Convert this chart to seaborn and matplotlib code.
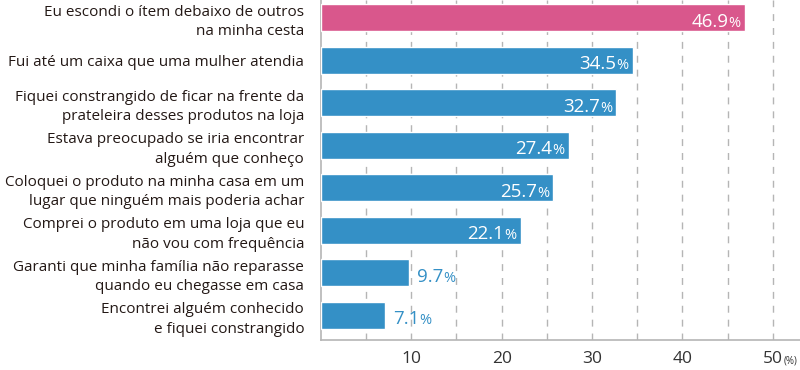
import matplotlib
matplotlib.use("Agg")
import matplotlib.pyplot as plt
import seaborn as sns
import pandas as pd
from matplotlib.transforms import offset_copy

categories = [
    "Eu escondi o ítem debaixo de outros\nna minha cesta",
    "Fui até um caixa que uma mulher atendia",
    "Fiquei constrangido de ficar na frente da\nprateleira desses produtos na loja",
    "Estava preocupado se iria encontrar\nalguém que conheço",
    "Coloquei o produto na minha casa em um\nlugar que ninguém mais poderia achar",
    "Comprei o produto em uma loja que eu\nnão vou com frequência",
    "Garanti que minha família não reparasse\nquando eu chegasse em casa",
    "Encontrei alguém conhecido\ne fiquei constrangido",
]
values = [46.9, 34.5, 32.7, 27.4, 25.7, 22.1, 9.7, 7.1]
tick_values = [10, 20, 30, 40, 50]
tick_labels = ["10", "20", "30", "40", "50"]

PINK = "#d9578c"
BLUE = "#3490c6"
colors = [PINK] + [BLUE] * (len(values) - 1)

df = pd.DataFrame({"cat": categories, "val": values})

sns.set_theme(style="white")
plt.rcParams["font.family"] = ["Open Sans", "DejaVu Sans"]

fig = plt.figure(figsize=(8, 3.7), dpi=100)
ax = fig.add_axes([0.401, 0.081, 0.599, 0.919])

sns.barplot(data=df, y="cat", x="val", hue="cat", palette=colors, legend=False,
            width=0.64, ax=ax, saturation=1, zorder=3)

ax.set_xlim(0, 53)
ax.set_ylim(len(values) - 0.42, -0.42)

# dashed grid
for g in range(5, 55, 5):
    ax.axvline(g, color="#b5b5b5", lw=1, ls=(0, (5, 5)), zorder=1)

ax.set_xticks(tick_values)
ax.set_xticklabels(tick_labels, fontsize=12.5, color="#333333")
ax.set_xticks(range(5, 55, 5), minor=True)
ax.tick_params(axis="x", which="both", direction="in", length=5, color="#b5b5b5", pad=8)
ax.tick_params(axis="y", length=0, pad=12)
for lab in ax.get_yticklabels():
    lab.set_fontsize(11.0)
    lab.set_color("#231815")
    lab.set_linespacing(1.42)
ax.set_xlabel("")
ax.set_ylabel("")

for s in ["top", "right"]:
    ax.spines[s].set_visible(False)
for s in ["left", "bottom"]:
    ax.spines[s].set_color("#b5b5b5")
    ax.spines[s].set_linewidth(1.2)

fig.canvas.draw()
renderer = fig.canvas.get_renderer()

# (%) unit next to the "50" tick label
lab50 = ax.get_xticklabels()[-1]
bb = lab50.get_window_extent(renderer)
fig.text((bb.x1 + 1) / fig.bbox.width, (bb.y0 + bb.y1) / 2 / fig.bbox.height - 0.004,
         "(%)", fontsize=7, color="#333333", ha="left", va="center")

# value labels: large number + small percent sign
NUM_FS, PCT_FS, DY = 13.5, 10.5, -6.3
for i, v in enumerate(values):
    inside = v > 15
    col = "white" if inside else BLUE
    num = f"{v:.1f}"
    if inside:
        pct = ax.text(v, i, "%", ha="right", va="baseline", fontsize=PCT_FS, color=col, zorder=5,
                      transform=offset_copy(ax.transData, fig=fig, x=-3, y=DY, units="points"))
        pb = pct.get_window_extent(renderer)
        w = pb.width * 72 / fig.dpi
        ax.text(v, i, num, ha="right", va="baseline", fontsize=NUM_FS, color=col, zorder=5,
                transform=offset_copy(ax.transData, fig=fig, x=-3 - w, y=DY, units="points"))
    else:
        t = ax.text(v, i, num, ha="left", va="baseline", fontsize=NUM_FS, color=col, zorder=5,
                    transform=offset_copy(ax.transData, fig=fig, x=6, y=DY, units="points"))
        tb = t.get_window_extent(renderer)
        w = tb.width * 72 / fig.dpi
        ax.text(v, i, "%", ha="left", va="baseline", fontsize=PCT_FS, color=col, zorder=5,
                transform=offset_copy(ax.transData, fig=fig, x=6 + w, y=DY, units="points"))

fig.savefig("out.png", dpi=100)
